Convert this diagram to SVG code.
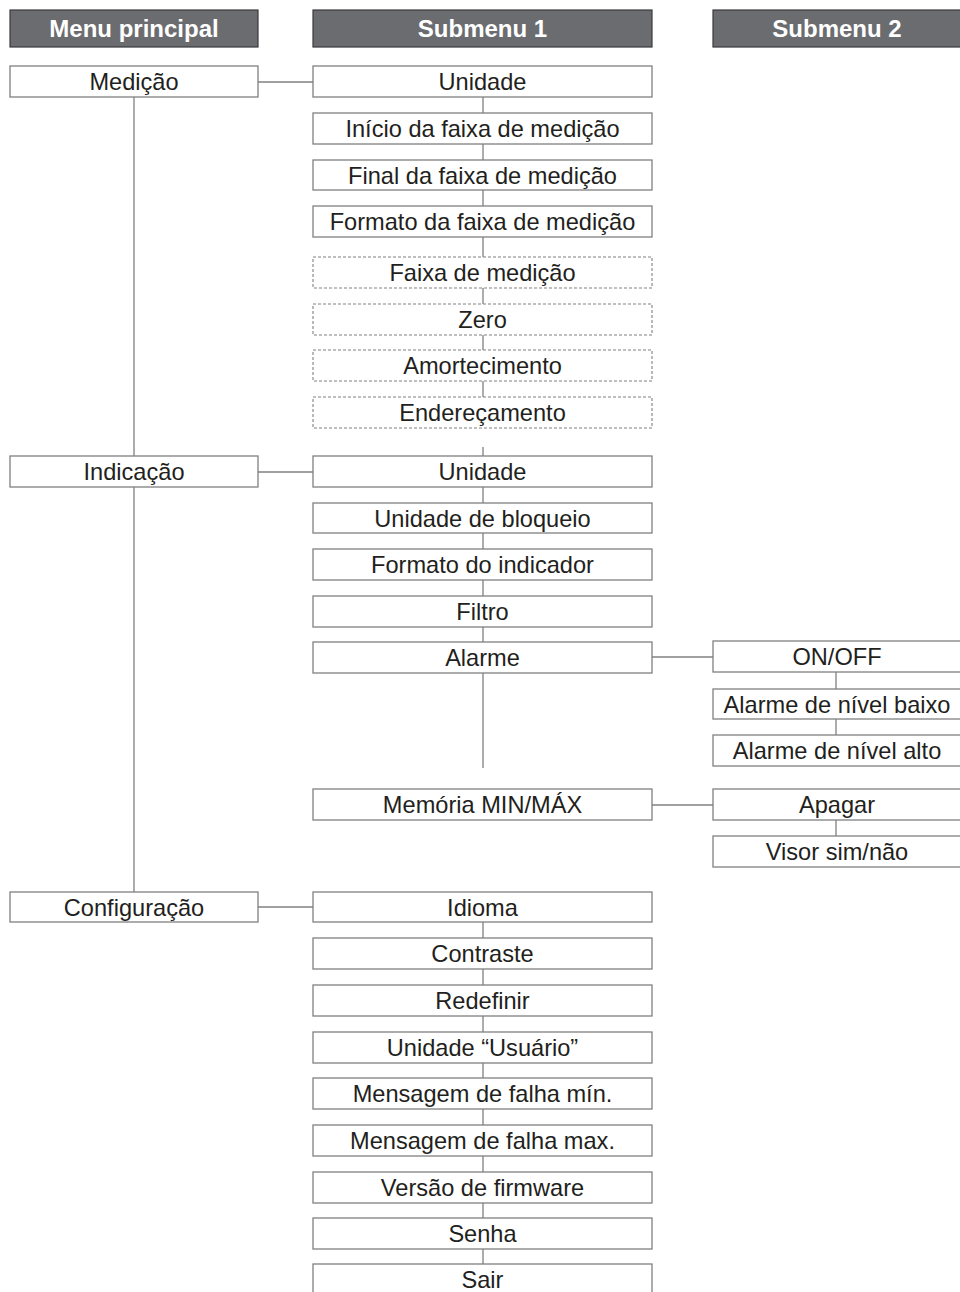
<svg xmlns="http://www.w3.org/2000/svg" width="960" height="1292" viewBox="0 0 960 1292">
<style>
.h rect{fill:#6b6c70;stroke:#3a3a3c;stroke-width:1.2}
.h text{font-family:"Liberation Sans",Arial,sans-serif;font-weight:bold;font-size:24px;fill:#ffffff;text-anchor:middle}
.n rect{fill:#ffffff;stroke:#808080;stroke-width:1.3}
.d rect{fill:#ffffff;stroke:#808080;stroke-width:1.1;stroke-dasharray:3,2}
.n text,.d text{font-family:"Liberation Sans",Arial,sans-serif;font-size:23.6px;fill:#231f20;text-anchor:middle}
.c line{stroke:#808080;stroke-width:1.3}
</style>
<rect width="960" height="1292" fill="#ffffff"/>
<g class="c" id="connectors">
<line x1="134" y1="97" x2="134" y2="456"/>
<line x1="134" y1="487" x2="134" y2="892"/>
<line x1="258" y1="82" x2="313" y2="82"/>
<line x1="258" y1="472" x2="313" y2="472"/>
<line x1="258" y1="907" x2="313" y2="907"/>
<line x1="483" y1="97" x2="483" y2="428"/>
<line x1="483" y1="447" x2="483" y2="456"/>
<line x1="483" y1="487" x2="483" y2="642"/>
<line x1="483" y1="673" x2="483" y2="768"/>
<line x1="483" y1="922" x2="483" y2="1264"/>
<line x1="652" y1="657" x2="713" y2="657"/>
<line x1="652" y1="805" x2="713" y2="805"/>
<line x1="836" y1="672" x2="836" y2="735"/>
<line x1="836" y1="820" x2="836" y2="836"/>
</g>
<g class="h" id="h-main"><rect x="10" y="10" width="248" height="37"/><text x="134" y="37">Menu principal</text></g>
<g class="h" id="h-sub1"><rect x="313" y="10" width="339" height="37"/><text x="482.5" y="37">Submenu 1</text></g>
<g class="h" id="h-sub2"><rect x="713" y="10" width="260" height="37"/><text x="837" y="37">Submenu 2</text></g>

<g class="n" id="m-medicao"><rect x="10" y="66" width="248" height="31"/><text x="134" y="90">Medição</text></g>
<g class="n" id="m-indicacao"><rect x="10" y="456" width="248" height="31"/><text x="134" y="480">Indicação</text></g>
<g class="n" id="m-config"><rect x="10" y="892" width="248" height="30"/><text x="134" y="915.5">Configuração</text></g>

<g class="n" id="s1-unidade"><rect x="313" y="66" width="339" height="31"/><text x="482.5" y="90">Unidade</text></g>
<g class="n" id="s1-inicio"><rect x="313" y="113" width="339" height="31"/><text x="482.5" y="137">Início da faixa de medição</text></g>
<g class="n" id="s1-final"><rect x="313" y="160" width="339" height="30"/><text x="482.5" y="183.5">Final da faixa de medição</text></g>
<g class="n" id="s1-formato"><rect x="313" y="206" width="339" height="31"/><text x="482.5" y="230">Formato da faixa de medição</text></g>
<g class="d" id="s1-faixa"><rect x="313" y="257" width="339" height="31"/><text x="482.5" y="281">Faixa de medição</text></g>
<g class="d" id="s1-zero"><rect x="313" y="304" width="339" height="31"/><text x="482.5" y="328">Zero</text></g>
<g class="d" id="s1-amort"><rect x="313" y="350" width="339" height="31"/><text x="482.5" y="374">Amortecimento</text></g>
<g class="d" id="s1-ender"><rect x="313" y="397" width="339" height="31"/><text x="482.5" y="421">Endereçamento</text></g>

<g class="n" id="s1-unidade2"><rect x="313" y="456" width="339" height="31"/><text x="482.5" y="480">Unidade</text></g>
<g class="n" id="s1-bloqueio"><rect x="313" y="503" width="339" height="30"/><text x="482.5" y="526.5">Unidade de bloqueio</text></g>
<g class="n" id="s1-formind"><rect x="313" y="549" width="339" height="31"/><text x="482.5" y="573">Formato do indicador</text></g>
<g class="n" id="s1-filtro"><rect x="313" y="596" width="339" height="31"/><text x="482.5" y="620">Filtro</text></g>
<g class="n" id="s1-alarme"><rect x="313" y="642" width="339" height="31"/><text x="482.5" y="666">Alarme</text></g>
<g class="n" id="s1-memoria"><rect x="313" y="789" width="339" height="31"/><text x="482.5" y="813">Memória MIN/MÁX</text></g>

<g class="n" id="s1-idioma"><rect x="313" y="892" width="339" height="30"/><text x="482.5" y="915.5">Idioma</text></g>
<g class="n" id="s1-contraste"><rect x="313" y="938" width="339" height="31"/><text x="482.5" y="962">Contraste</text></g>
<g class="n" id="s1-redefinir"><rect x="313" y="985" width="339" height="31"/><text x="482.5" y="1009">Redefinir</text></g>
<g class="n" id="s1-usuario"><rect x="313" y="1032" width="339" height="31"/><text x="482.5" y="1056">Unidade “Usuário”</text></g>
<g class="n" id="s1-fmin"><rect x="313" y="1078" width="339" height="31"/><text x="482.5" y="1102">Mensagem de falha mín.</text></g>
<g class="n" id="s1-fmax"><rect x="313" y="1125" width="339" height="31"/><text x="482.5" y="1149">Mensagem de falha max.</text></g>
<g class="n" id="s1-firmware"><rect x="313" y="1172" width="339" height="31"/><text x="482.5" y="1196">Versão de firmware</text></g>
<g class="n" id="s1-senha"><rect x="313" y="1218" width="339" height="31"/><text x="482.5" y="1242">Senha</text></g>
<g class="n" id="s1-sair"><rect x="313" y="1264" width="339" height="40"/><text x="482.5" y="1288">Sair</text></g>

<g class="n" id="s2-onoff"><rect x="713" y="641" width="260" height="31"/><text x="837" y="665">ON/OFF</text></g>
<g class="n" id="s2-baixo"><rect x="713" y="689" width="260" height="30"/><text x="837" y="712.5">Alarme de nível baixo</text></g>
<g class="n" id="s2-alto"><rect x="713" y="735" width="260" height="31"/><text x="837" y="759">Alarme de nível alto</text></g>
<g class="n" id="s2-apagar"><rect x="713" y="789" width="260" height="31"/><text x="837" y="813">Apagar</text></g>
<g class="n" id="s2-visor"><rect x="713" y="836" width="260" height="31"/><text x="837" y="860">Visor sim/não</text></g>
</svg>
